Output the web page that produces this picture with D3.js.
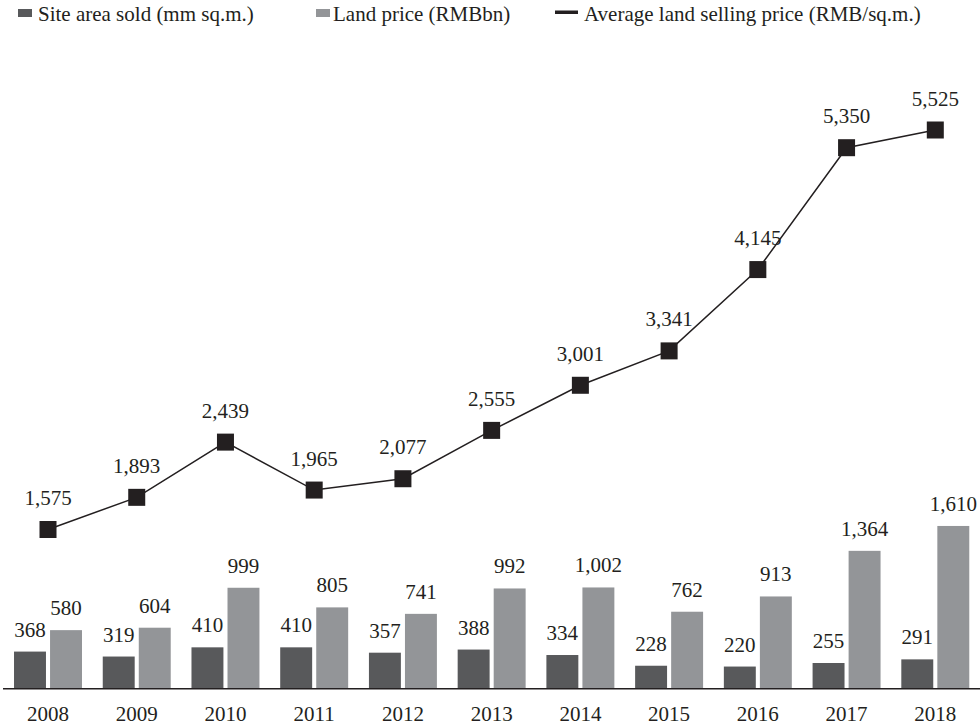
<!DOCTYPE html>
<html>
<head>
<meta charset="utf-8">
<script src="https://cdn.jsdelivr.net/npm/d3@7"></script>
<style>
  html, body { margin: 0; padding: 0; background: #fff; }
  svg text { font-family: "Liberation Serif", "Times New Roman", serif; fill: #231f20; }
</style>
</head>
<body>
<svg id="chart" width="980" height="725"></svg>
<script>
const years = ["2008","2009","2010","2011","2012","2013","2014","2015","2016","2017","2018"];
const siteArea = [368, 319, 410, 410, 357, 388, 334, 228, 220, 255, 291];
const landPrice = [580, 604, 999, 805, 741, 992, 1002, 762, 913, 1364, 1610];
const avgPrice = [1575, 1893, 2439, 1965, 2077, 2555, 3001, 3341, 4145, 5350, 5525];
const legendLabels = ["Site area sold (mm sq.m.)", "Land price (RMBbn)", "Average land selling price (RMB/sq.m.)"];

const darkCol = "#58595b", lightCol = "#939598", markCol = "#231f20";
const fmt = d3.format(",");

const svg = d3.select("#chart");
const x = d3.scaleBand().domain(years).range([3.64, 979.66]);
const y = d3.scaleLinear().domain([0, 5525]).range([688.8, 130]);
const bw = x.bandwidth() * 0.36;
const off = x.bandwidth() * 0.203;
const cx = d => x(d) + x.bandwidth() / 2;

// bars
const g = svg.append("g");
g.selectAll(".dark").data(years).join("rect")
  .attr("x", (d) => cx(d) - off - bw / 2)
  .attr("y", (d, i) => y(siteArea[i]))
  .attr("width", bw)
  .attr("height", (d, i) => y(0) - y(siteArea[i]))
  .attr("fill", darkCol);
g.selectAll(".light").data(years).join("rect")
  .attr("x", (d) => cx(d) + off - bw / 2)
  .attr("y", (d, i) => y(landPrice[i]))
  .attr("width", bw)
  .attr("height", (d, i) => y(0) - y(landPrice[i]))
  .attr("fill", lightCol);

// bar labels
g.selectAll(".dl").data(years).join("text")
  .attr("x", d => cx(d) - off)
  .attr("y", (d, i) => y(siteArea[i]) - 15)
  .attr("text-anchor", "middle").attr("font-size", 21)
  .text((d, i) => fmt(siteArea[i]));
g.selectAll(".ll").data(years).join("text")
  .attr("x", d => cx(d) + off)
  .attr("y", (d, i) => y(landPrice[i]) - 15)
  .attr("text-anchor", "middle").attr("font-size", 21)
  .text((d, i) => fmt(landPrice[i]));

// axis
const axis = svg.append("g").attr("transform", `translate(0,${y(0)})`)
  .call(d3.axisBottom(x).tickSize(0).tickPadding(0));
axis.select(".domain").attr("stroke", "#231f20").attr("stroke-width", 1.5).attr("d", `M3,0H980`);
axis.selectAll(".tick text").attr("font-size", 21).attr("dy", null).attr("y", 32)
  .style("font-family", '"Liberation Serif", serif').attr("fill", "#231f20");

// line
const line = d3.line().x((d, i) => cx(years[i])).y(d => y(d));
svg.append("path").datum(avgPrice).attr("d", line)
  .attr("fill", "none").attr("stroke", "#231f20").attr("stroke-width", 1.5);
const ms = 17;
svg.selectAll(".mk").data(avgPrice).join("rect")
  .attr("x", (d, i) => cx(years[i]) - ms / 2)
  .attr("y", d => y(d) - ms / 2)
  .attr("width", ms).attr("height", ms)
  .attr("fill", markCol);
svg.selectAll(".ml").data(avgPrice).join("text")
  .attr("x", (d, i) => cx(years[i]))
  .attr("y", d => y(d) - 24.5)
  .attr("text-anchor", "middle").attr("font-size", 21)
  .text(d => fmt(d));

// legend
const lg = svg.append("g");
lg.append("rect").attr("x", 18).attr("y", 9).attr("width", 14).attr("height", 8).attr("fill", darkCol);
lg.append("text").attr("x", 38).attr("y", 21).attr("font-size", 21).text(legendLabels[0]);
lg.append("rect").attr("x", 316).attr("y", 9).attr("width", 14).attr("height", 8).attr("fill", lightCol);
lg.append("text").attr("x", 333).attr("y", 21).attr("font-size", 21).text(legendLabels[1]);
lg.append("rect").attr("x", 555).attr("y", 10.5).attr("width", 23).attr("height", 3.5).attr("fill", markCol);
lg.append("text").attr("x", 584).attr("y", 21).attr("font-size", 21).text(legendLabels[2]);
</script>
</body>
</html>
